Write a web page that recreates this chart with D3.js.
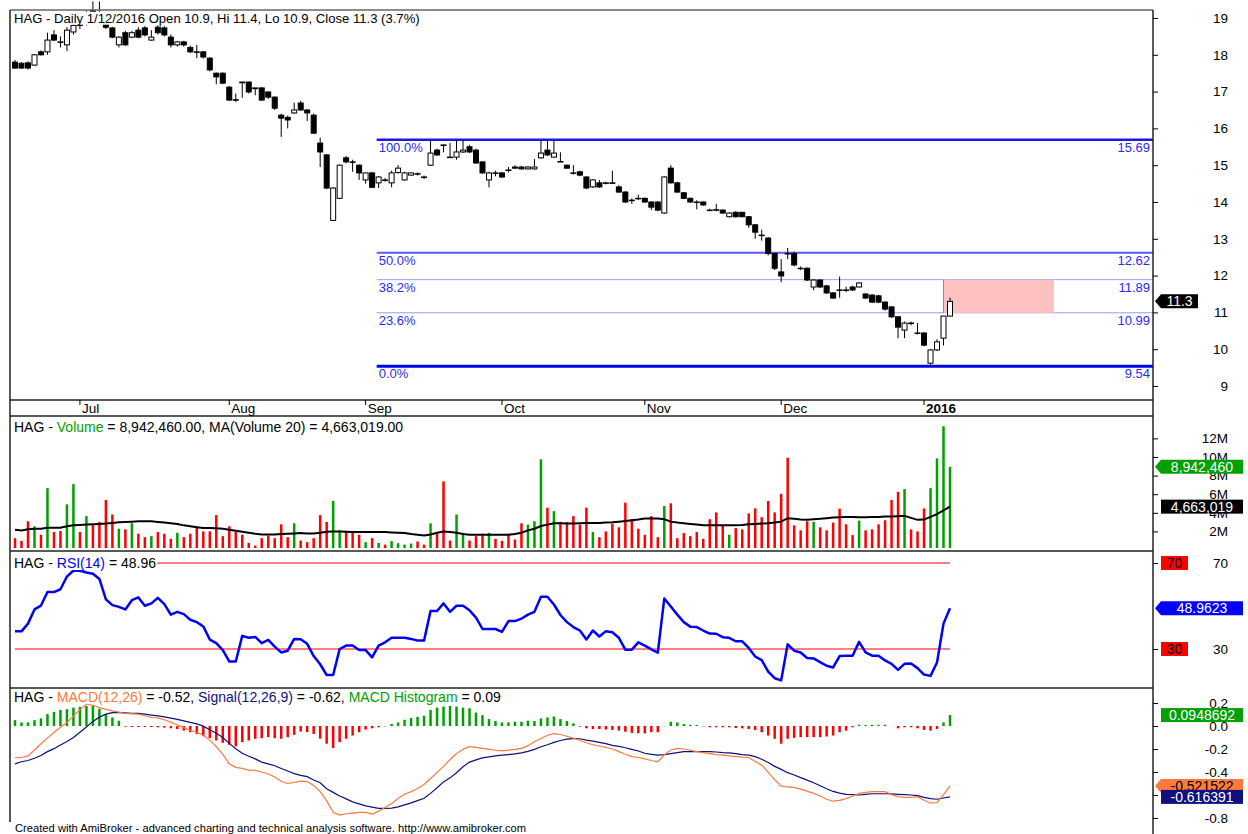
<!DOCTYPE html>
<meta charset="utf-8">
<head>
    <style>
        body { margin: 0; background: #fff; }
        text { font-family: "Liberation Sans", Arial, sans-serif; white-space: pre; }
    </style>
    <title>HAG Daily</title>
</head>
<body>
<svg width="1248" height="834"></svg>
<script src="https://d3js.org/d3.v7.min.js"></script>
<script>

    // ---- data (bar index 0..144) ----
    var openP = [17.80,17.77,17.78,17.72,18.08,18.08,18.54,18.35,18.27,18.62,
        18.90,18.85,19.20,19.15,18.90,18.73,18.27,18.60,18.48,18.67,
        18.73,18.40,18.75,18.73,18.48,18.27,18.35,18.20,18.08,18.08,
        17.91,17.50,17.50,17.12,16.78,17.26,17.26,17.10,17.10,16.99,
        16.85,16.36,16.30,16.42,16.69,16.50,16.36,15.60,15.28,13.50,
        14.10,15.20,15.09,15.00,14.60,14.79,14.52,14.60,14.52,14.80,
        14.60,14.73,14.77,14.68,15.00,15.41,15.55,15.22,15.22,15.36,
        15.50,15.41,15.09,14.60,14.79,14.79,14.87,14.95,14.95,14.90,
        14.90,15.20,15.41,15.22,15.10,15.00,14.79,14.82,14.68,14.41,
        14.52,14.52,14.52,14.41,14.27,14.05,14.10,14.10,14.00,14.00,
        13.70,14.92,14.52,14.25,14.10,14.00,14.00,13.78,13.79,13.78,
        13.60,13.72,13.72,13.60,13.38,13.10,13.02,12.60,12.10,12.60,
        12.60,12.20,12.20,11.69,11.88,11.72,11.53,11.61,11.61,11.69,
        11.69,11.50,11.47,11.45,11.28,11.15,10.88,10.52,10.71,10.44,
        10.44,9.62,9.98,10.30,10.90];
    var highP = [17.86,17.80,17.82,18.02,18.12,18.60,18.67,18.50,18.75,18.90,
        19.00,19.20,19.45,19.45,19.00,18.76,18.50,18.65,18.65,18.75,
        18.78,18.67,18.80,18.78,18.55,18.38,18.38,18.25,18.27,18.10,
        17.93,17.52,17.52,17.15,16.95,17.27,17.27,17.10,17.12,17.00,
        16.87,16.40,16.35,16.70,16.75,16.52,16.40,15.75,15.30,14.40,
        15.02,15.25,15.15,15.02,14.80,14.82,14.70,14.65,14.85,15.00,
        14.82,14.80,14.80,14.72,15.68,15.45,15.56,15.60,15.69,15.68,
        15.55,15.45,15.10,14.82,14.85,14.82,14.95,15.00,14.98,14.98,
        15.17,15.68,15.68,15.68,15.35,15.02,15.00,14.85,14.70,14.62,
        14.60,14.55,14.85,14.45,14.30,14.10,14.20,14.12,14.02,14.02,
        14.70,15.00,14.55,14.27,14.12,14.05,14.02,13.82,13.95,13.80,
        13.72,13.75,13.73,13.62,13.40,13.25,13.05,12.62,12.45,12.75,
        12.65,12.25,12.22,11.90,11.90,11.75,11.55,11.97,11.70,11.72,
        11.82,11.52,11.50,11.48,11.30,11.17,10.90,10.75,10.75,10.71,
        10.47,10.00,10.27,10.90,11.40];
    var lowP = [17.62,17.62,17.60,17.70,17.98,18.00,18.38,18.20,18.10,18.55,
        18.70,18.80,19.00,18.95,18.70,18.45,18.20,18.25,18.45,18.45,
        18.50,18.38,18.55,18.50,18.20,18.22,18.22,18.05,17.91,17.90,
        17.55,17.20,17.20,16.75,16.72,16.83,16.95,16.90,16.75,16.80,
        16.50,15.77,16.00,16.40,16.48,16.20,15.85,14.95,14.35,13.48,
        14.08,15.05,14.82,14.60,14.50,14.38,14.38,14.55,14.40,14.77,
        14.58,14.72,14.72,14.62,14.98,15.25,15.35,15.20,15.15,15.33,
        15.33,15.04,14.77,14.40,14.70,14.65,14.80,14.90,14.88,14.88,
        14.88,15.18,15.25,15.20,15.08,14.90,14.75,14.70,14.35,14.38,
        14.38,14.48,14.50,14.25,13.98,13.95,14.05,13.98,13.78,13.75,
        13.68,14.50,14.25,14.08,13.98,13.80,13.90,13.75,13.75,13.68,
        13.58,13.58,13.58,13.30,13.00,12.95,12.55,12.15,11.82,12.45,
        12.25,12.15,11.85,11.60,11.66,11.50,11.37,11.40,11.55,11.58,
        11.68,11.37,11.26,11.25,11.05,10.85,10.30,10.30,10.65,10.40,
        10.08,9.54,9.95,10.10,10.90];
    var closeP = [17.64,17.64,17.64,18.00,18.00,18.40,18.40,18.35,18.67,18.80,
        18.80,19.10,19.10,19.00,18.75,18.48,18.48,18.27,18.60,18.48,
        18.54,18.48,18.60,18.54,18.27,18.35,18.27,18.08,18.08,17.94,
        17.59,17.40,17.23,16.77,16.77,17.24,16.99,17.08,16.77,16.85,
        16.55,16.28,16.23,16.50,16.50,16.42,15.87,15.36,14.38,14.38,
        15.00,15.09,15.08,14.79,14.79,14.40,14.68,14.60,14.79,14.92,
        14.79,14.79,14.76,14.68,15.33,15.28,15.54,15.22,15.36,15.41,
        15.36,15.06,14.79,14.79,14.79,14.68,14.87,14.92,14.90,14.95,
        14.95,15.33,15.28,15.33,15.09,14.92,14.79,14.73,14.38,14.60,
        14.41,14.52,14.52,14.27,14.00,14.05,14.10,14.00,13.86,13.78,
        14.68,14.52,14.27,14.10,14.00,14.00,13.92,13.78,13.78,13.70,
        13.70,13.60,13.60,13.38,13.18,13.10,12.60,12.20,11.99,12.60,
        12.29,12.20,11.88,11.88,11.69,11.53,11.39,11.61,11.60,11.61,
        11.80,11.39,11.28,11.28,11.09,10.88,10.60,10.71,10.71,10.44,
        10.11,9.98,10.20,10.90,11.30];

    // volume in millions of shares
    var volume = [1.27,0.98,3.09,2.55,1.64,6.65,1.93,2.04,4.91,7.09,
        1.93,3.64,2.73,3.02,5.38,3.82,2.29,2.22,2.87,1.75,
        1.38,1.49,1.93,1.75,1.20,1.85,1.38,1.75,2.55,2.00,
        2.00,3.75,1.49,2.55,1.93,1.64,0.76,0.47,1.27,1.56,
        1.27,2.76,1.38,2.87,1.02,0.84,1.27,3.75,3.02,5.27,
        2.11,2.00,2.00,1.64,0.84,1.27,0.76,0.58,0.95,0.73,
        0.58,0.69,0.91,0.58,2.87,1.82,7.38,1.02,3.82,1.64,
        1.02,1.49,1.75,1.85,1.20,0.98,1.75,1.13,2.87,2.73,
        3.09,9.75,4.55,4.18,3.02,3.02,3.64,2.73,4.55,1.93,
        1.38,2.00,2.84,2.44,5.09,3.31,2.29,1.64,3.64,1.38,
        4.73,5.02,1.27,1.82,1.49,1.93,1.20,3.31,4.04,2.65,
        1.64,2.36,2.22,3.93,4.47,3.53,5.27,4.04,6.04,9.93,
        2.65,2.11,3.09,3.02,2.44,2.11,2.95,4.44,2.76,1.60,
        3.16,2.11,2.22,2.76,3.20,5.38,6.25,6.55,2.22,2.00,
        4.47,6.65,9.85,13.30,8.94246];
    var volumeMA = [2.18,2.11,2.22,2.29,2.29,2.40,2.40,2.40,2.55,2.65,
        2.69,2.73,2.76,2.80,2.84,2.91,2.98,3.02,3.05,3.09,
        3.09,3.09,3.02,2.95,2.87,2.80,2.65,2.55,2.44,2.36,
        2.36,2.33,2.29,2.18,2.07,1.96,1.85,1.75,1.67,1.67,
        1.67,1.71,1.75,1.78,1.82,1.78,1.78,1.85,1.96,2.00,
        2.00,1.96,1.93,1.93,1.93,1.93,1.93,1.93,1.89,1.85,
        1.82,1.71,1.64,1.56,1.67,1.85,2.00,1.93,1.85,1.71,
        1.64,1.64,1.64,1.64,1.64,1.64,1.64,1.71,1.85,2.11,
        2.29,2.58,2.73,2.87,2.87,2.84,2.84,2.87,2.91,2.91,
        2.91,2.95,2.98,3.05,3.13,3.20,3.27,3.38,3.38,3.38,
        3.31,3.05,2.95,2.87,2.80,2.73,2.65,2.65,2.65,2.65,
        2.65,2.65,2.69,2.76,2.80,2.84,2.87,2.95,3.05,3.42,
        3.35,3.27,3.24,3.31,3.35,3.42,3.49,3.53,3.56,3.56,
        3.53,3.53,3.56,3.56,3.60,3.60,3.64,3.67,3.45,3.24,
        3.27,3.56,3.85,4.25,4.663019];

    var rsi = [38.2,38.2,41.8,48.4,50.2,56.5,56.5,57.8,63.7,66.5,
        66.4,65.6,65.0,62.6,53.1,50.4,49.6,48.4,52.7,54.0,
        50.1,51.2,53.8,50.9,46.0,47.3,46.2,43.6,42.5,40.5,
        34.4,32.7,29.5,24.2,24.2,36.1,35.2,35.6,32.7,34.2,
        31.1,28.4,29.2,34.7,34.5,32.4,26.7,22.9,17.9,17.9,
        30.0,31.6,31.6,29.5,29.5,26.1,31.6,33.1,35.2,35.2,
        35.2,34.7,33.9,33.9,47.7,47.7,51.2,47.3,50.1,50.1,
        48.0,44.6,39.3,39.3,39.3,38.0,43.0,43.0,44.1,46.0,
        47.3,54.3,54.3,50.7,45.8,42.5,40.2,38.6,34.4,38.6,
        35.8,38.3,37.8,35.2,29.7,29.7,33.1,31.6,29.8,28.3,
        53.5,49.8,46.0,42.5,40.4,40.2,38.6,37.2,37.1,35.5,
        35.2,33.6,33.6,30.5,26.5,24.8,19.5,16.4,15.4,32.2,
        29.2,28.4,25.8,25.6,23.9,22.2,21.4,26.7,26.9,26.9,
        33.3,28.4,26.9,26.9,24.7,23.1,20.3,23.1,23.3,21.1,
        18.1,17.5,23.7,41.8,48.9623];

    var macd = [-0.274,-0.274,-0.260,-0.209,-0.154,-0.103,-0.057,-0.011,0.031,0.086,
        0.140,0.191,0.180,0.160,0.145,0.131,0.120,0.109,0.106,0.103,
        0.089,0.074,0.071,0.054,0.034,0.011,-0.014,-0.037,-0.054,-0.080,
        -0.123,-0.180,-0.246,-0.329,-0.360,-0.369,-0.383,-0.386,-0.400,-0.417,
        -0.443,-0.480,-0.500,-0.491,-0.480,-0.483,-0.517,-0.571,-0.651,-0.751,
        -0.774,-0.763,-0.757,-0.751,-0.751,-0.766,-0.740,-0.709,-0.674,-0.631,
        -0.594,-0.571,-0.543,-0.509,-0.457,-0.403,-0.351,-0.291,-0.240,-0.203,
        -0.180,-0.186,-0.194,-0.203,-0.211,-0.217,-0.209,-0.203,-0.194,-0.171,
        -0.137,-0.109,-0.080,-0.066,-0.074,-0.089,-0.106,-0.126,-0.146,-0.163,
        -0.174,-0.186,-0.200,-0.223,-0.246,-0.266,-0.274,-0.286,-0.300,-0.311,
        -0.251,-0.209,-0.194,-0.200,-0.211,-0.223,-0.231,-0.240,-0.249,-0.254,
        -0.260,-0.266,-0.271,-0.274,-0.309,-0.340,-0.403,-0.466,-0.523,-0.529,
        -0.534,-0.549,-0.566,-0.586,-0.609,-0.637,-0.654,-0.646,-0.631,-0.611,
        -0.586,-0.577,-0.571,-0.571,-0.571,-0.597,-0.614,-0.620,-0.620,-0.614,
        -0.646,-0.669,-0.666,-0.597,-0.521522];
    var signal = [-0.329,-0.311,-0.300,-0.280,-0.257,-0.223,-0.197,-0.166,-0.134,-0.100,
        -0.054,-0.009,0.040,0.077,0.103,0.117,0.117,0.114,0.111,0.109,
        0.103,0.095,0.088,0.080,0.069,0.057,0.045,0.031,0.019,-0.001,
        -0.033,-0.063,-0.100,-0.151,-0.197,-0.237,-0.263,-0.286,-0.314,-0.329,
        -0.346,-0.369,-0.391,-0.414,-0.429,-0.440,-0.469,-0.494,-0.546,-0.577,
        -0.609,-0.634,-0.660,-0.677,-0.694,-0.706,-0.717,-0.717,-0.714,-0.703,
        -0.686,-0.669,-0.649,-0.629,-0.586,-0.537,-0.486,-0.451,-0.406,-0.354,
        -0.314,-0.294,-0.277,-0.269,-0.260,-0.254,-0.249,-0.243,-0.234,-0.220,
        -0.203,-0.180,-0.163,-0.143,-0.126,-0.114,-0.109,-0.111,-0.123,-0.131,
        -0.143,-0.154,-0.169,-0.177,-0.189,-0.203,-0.217,-0.237,-0.246,-0.254,
        -0.249,-0.240,-0.231,-0.223,-0.223,-0.223,-0.223,-0.223,-0.226,-0.231,
        -0.234,-0.240,-0.249,-0.254,-0.266,-0.289,-0.317,-0.351,-0.377,-0.406,
        -0.426,-0.449,-0.471,-0.494,-0.520,-0.546,-0.569,-0.583,-0.594,-0.597,
        -0.600,-0.594,-0.589,-0.589,-0.589,-0.591,-0.594,-0.597,-0.600,-0.606,
        -0.620,-0.631,-0.637,-0.626,-0.616391];
    var histogram = [0.051,0.031,0.031,0.051,0.066,0.103,0.123,0.140,0.146,0.160,
        0.166,0.174,0.174,0.151,0.103,0.074,0.046,-0.006,-0.009,-0.009,
        -0.009,-0.009,-0.011,-0.014,-0.020,-0.026,-0.040,-0.054,-0.069,-0.089,
        -0.106,-0.126,-0.146,-0.163,-0.177,-0.140,-0.126,-0.111,-0.106,-0.097,
        -0.106,-0.111,-0.097,-0.077,-0.049,-0.054,-0.069,-0.111,-0.154,-0.191,
        -0.140,-0.111,-0.083,-0.054,-0.031,-0.020,-0.011,-0.003,0.017,0.031,
        0.054,0.069,0.080,0.089,0.140,0.160,0.169,0.174,0.169,0.160,
        0.154,0.117,0.094,0.060,0.043,0.031,0.031,0.037,0.037,0.046,
        0.043,0.066,0.074,0.083,0.060,0.043,0.023,-0.006,-0.020,-0.026,
        -0.026,-0.031,-0.034,-0.040,-0.050,-0.060,-0.063,-0.063,-0.054,-0.054,
        -0.002,0.037,0.031,0.017,0.011,0.009,-0.003,-0.011,-0.011,-0.011,
        -0.011,-0.017,-0.020,-0.026,-0.034,-0.054,-0.083,-0.111,-0.154,-0.111,
        -0.103,-0.097,-0.097,-0.097,-0.097,-0.091,-0.083,-0.054,-0.040,-0.011,
        0.011,0.009,0.011,0.011,0.011,-0.001,-0.020,-0.011,-0.011,-0.020,
        -0.034,-0.040,-0.026,0.031,0.0948692];

    var monthLabels = ["Jul", "Aug", "Sep", "Oct", "Nov", "Dec", "2016"];
    var monthStart = [10, 33, 54, 75, 97, 118, 140];

    var fibPct = ["100.0%", "50.0%", "38.2%", "23.6%", "0.0%"];
    var fibLevel = [15.69, 12.62, 11.89, 10.99, 9.54];
    var fibFrom = 55.7;          // bar where the retracement lines start
    var zoneFrom = 143, zoneTo = 160;   // shaded target box

    var priceTicks = [9, 10, 11, 12, 13, 14, 15, 16, 17, 18, 19];
    var volTicks = [2, 4, 6, 8, 10, 12];
    var rsiTicks = [30, 70];
    var macdTicks = [-0.8, -0.6, -0.4, -0.2, 0, 0.2];

    // ---- layout ----
    var svg = d3.select("svg"),
        width = +svg.attr("width"),
        height = +svg.attr("height"),
        left = 10,
        axisX = 1153;

    var green = "#00a000", red = "#ff0000", blue = "#0000ff",
        orange = "#ff7a3c", navy = "#10107e", fibBlue = "#2a2aff";

    var n = closeP.length;
    var x = d3.scaleLinear().domain([0, n - 1]).range([15, 950]);
    var yPrice = d3.scaleLinear().domain([9, 19]).range([386, 18]);
    var yVol = d3.scaleLinear().domain([0, 12]).range([550, 438.4]);
    var yRsi = d3.scaleLinear().domain([30, 70]).range([649, 563]);
    var yMacd = d3.scaleLinear().domain([-0.8, 0.2]).range([818, 703]);

    svg.append("rect").attr("width", width).attr("height", height).attr("fill", "#fff");

    // ---- price panel: fibonacci lines, zone, candles ----
    var fibW = [2.5, 2, 1, 1, 3], fibC = ["#1818e8", "#5a5aff", "#9c9cff", "#9c9cff", "#0000f0"];
    var fib = svg.append("g");
    fib.selectAll("line").data(fibLevel).enter().append("line")
        .attr("x1", x(fibFrom)).attr("x2", axisX)
        .attr("y1", function (d) { return yPrice(d); })
        .attr("y2", function (d) { return yPrice(d); })
        .attr("stroke", function (d, i) { return fibC[i]; })
        .attr("stroke-width", function (d, i) { return fibW[i]; });

    svg.append("rect")
        .attr("x", x(zoneFrom)).attr("y", yPrice(fibLevel[2]))
        .attr("width", x(zoneTo) - x(zoneFrom))
        .attr("height", yPrice(fibLevel[3]) - yPrice(fibLevel[2]))
        .attr("fill", "#ffc0c0");
    svg.append("line")
        .attr("x1", x(zoneFrom)).attr("x2", x(zoneFrom))
        .attr("y1", yPrice(fibLevel[2])).attr("y2", yPrice(fibLevel[3]))
        .attr("stroke", "#f06060");

    fib.selectAll("text.pct").data(fibPct).enter().append("text")
        .attr("class", "pct")
        .attr("x", x(fibFrom) + 2)
        .attr("y", function (d, i) { return yPrice(fibLevel[i]) + 12; })
        .attr("fill", fibBlue).style("font-size", "13px")
        .text(function (d) { return d; });
    fib.selectAll("text.val").data(fibLevel).enter().append("text")
        .attr("class", "val")
        .attr("x", axisX - 3)
        .attr("y", function (d) { return yPrice(d) + 12; })
        .attr("text-anchor", "end")
        .attr("fill", fibBlue).style("font-size", "13px")
        .text(function (d) { return d.toFixed(2); });

    var idx = d3.range(n);
    var candle = svg.append("g").selectAll("g").data(idx).enter().append("g");
    candle.append("line")
        .attr("x1", function (i) { return x(i); })
        .attr("x2", function (i) { return x(i); })
        .attr("y1", function (i) { return yPrice(highP[i]); })
        .attr("y2", function (i) { return yPrice(lowP[i]); })
        .attr("stroke", "#000");
    candle.append("rect")
        .attr("x", function (i) { return x(i) - 2.5; })
        .attr("width", 5)
        .attr("y", function (i) { return yPrice(Math.max(openP[i], closeP[i])); })
        .attr("height", function (i) {
            return Math.max(0.5, yPrice(Math.min(openP[i], closeP[i])) - yPrice(Math.max(openP[i], closeP[i])));
        })
        .attr("fill", function (i) { return closeP[i] > openP[i] ? "#fff" : "#000"; })
        .attr("stroke", "#000").attr("stroke-width", 1);

    // ---- volume panel ----
    svg.append("g").selectAll("line").data(idx).enter().append("line")
        .attr("x1", function (i) { return x(i); })
        .attr("x2", function (i) { return x(i); })
        .attr("y1", yVol(0) - 2)
        .attr("y2", function (i) { return yVol(volume[i]); })
        .attr("stroke", function (i) { return closeP[i] > openP[i] ? green : red; })
        .attr("stroke-width", 2.5);

    svg.append("path")
        .datum(idx)
        .attr("fill", "none").attr("stroke", "#000").attr("stroke-width", 2)
        .attr("d", d3.line().x(function (i) { return x(i); }).y(function (i) { return yVol(volumeMA[i]); }));

    // ---- RSI panel ----
    [70, 30].forEach(function (v) {
        svg.append("line").attr("x1", x(0)).attr("x2", x(n - 1))
            .attr("y1", yRsi(v)).attr("y2", yRsi(v))
            .attr("stroke", red).attr("stroke-width", 1);
    });
    svg.append("path")
        .datum(idx)
        .attr("fill", "none").attr("stroke", blue).attr("stroke-width", 2.5)
        .attr("stroke-linejoin", "round")
        .attr("d", d3.line().x(function (i) { return x(i); }).y(function (i) { return yRsi(rsi[i]); }));

    // ---- MACD panel ----
    svg.append("g").selectAll("line").data(idx).enter().append("line")
        .attr("x1", function (i) { return x(i); })
        .attr("x2", function (i) { return x(i); })
        .attr("y1", yMacd(0))
        .attr("y2", function (i) { return yMacd(histogram[i]); })
        .attr("stroke", function (i) { return histogram[i] >= 0 ? green : red; })
        .attr("stroke-width", 2.5);

    svg.append("path")
        .datum(idx)
        .attr("fill", "none").attr("stroke", navy).attr("stroke-width", 1.2)
        .attr("d", d3.line().x(function (i) { return x(i); }).y(function (i) { return yMacd(signal[i]); }));
    svg.append("path")
        .datum(idx)
        .attr("fill", "none").attr("stroke", orange).attr("stroke-width", 1.2)
        .attr("d", d3.line().x(function (i) { return x(i); }).y(function (i) { return yMacd(macd[i]); }));

    // ---- frame and separators ----
    var frame = svg.append("g").attr("stroke", "#222").attr("stroke-width", 1.5);
    frame.append("line").attr("x1", left).attr("x2", axisX).attr("y1", 10).attr("y2", 10).attr("stroke", "#666");
    frame.append("line").attr("x1", left).attr("x2", left).attr("y1", 10).attr("y2", 822);
    frame.append("line").attr("x1", axisX).attr("x2", axisX).attr("y1", 10).attr("y2", height);
    [400, 416, 551, 688].forEach(function (y) {
        frame.append("line").attr("x1", left).attr("x2", axisX).attr("y1", y).attr("y2", y);
    });

    // month labels in the date strip
    var months = svg.append("g");
    months.selectAll("line").data(monthStart).enter().append("line")
        .attr("x1", function (d) { return x(d); }).attr("x2", function (d) { return x(d); })
        .attr("y1", 400).attr("y2", 405).attr("stroke", "#000");
    months.selectAll("text").data(monthLabels).enter().append("text")
        .attr("x", function (d, i) { return x(monthStart[i]) + 2; })
        .attr("y", 413)
        .style("font-size", "13.5px")
        .style("font-weight", function (d) { return d === "2016" ? "bold" : "normal"; })
        .text(function (d) { return d; });

    // ---- right-hand axes ----
    function rightAxis(scale, ticks, fmt) {
        var g = svg.append("g")
            .attr("transform", "translate(" + axisX + ",0)")
            .call(d3.axisRight(scale).tickValues(ticks).tickSize(5).tickFormat(fmt));
        g.select(".domain").remove();
        g.selectAll("line").attr("stroke", "#000");
        g.selectAll("text")
            .attr("x", 75).attr("text-anchor", "end")
            .attr("fill", "#000")
            .style("font-size", "13.5px")
            .style("font-family", "'Liberation Sans', Arial, sans-serif");
        return g;
    }
    rightAxis(yPrice, priceTicks, function (d) { return d; });
    rightAxis(yVol, volTicks, function (d) { return d + "M"; });
    rightAxis(yRsi, rsiTicks, function (d) { return d; });
    rightAxis(yMacd, macdTicks, function (d) { return d.toFixed(1); });

    // value tags on the axis
    function tag(y, label, bg, fg, arrow, w) {
        var x0 = axisX + 8;
        var g = svg.append("g");
        if (arrow) {
            g.append("path")
                .attr("d", "M" + (axisX + 2) + "," + y + "L" + x0 + "," + (y - 7) + "H" + (x0 + w) +
                    "V" + (y + 7) + "H" + x0 + "Z")
                .attr("fill", bg);
        } else {
            g.append("rect").attr("x", x0).attr("y", y - 7).attr("width", w).attr("height", 14).attr("fill", bg);
        }
        g.append("text")
            .attr("x", x0 + w / 2).attr("y", y).attr("dy", "0.36em")
            .attr("text-anchor", "middle")
            .attr("fill", fg).style("font-size", "14px")
            .text(label);
    }
    var last = n - 1;
    tag(yPrice(closeP[last]), String(closeP[last]), "#000", "#fff", true, 37);
    tag(yVol(volume[last]), d3.format(",")(Math.round(volume[last] * 1e6)), green, "#fff", true, 82);
    tag(yVol(volumeMA[last]), d3.format(",")(Math.round(volumeMA[last] * 1e6)), "#000", "#fff", false, 82);
    tag(yRsi(70), "70", red, "#000", false, 27);
    tag(yRsi(30), "30", red, "#000", false, 27);
    tag(yRsi(rsi[last]), String(rsi[last]), blue, "#fff", true, 82);
    tag(yMacd(histogram[last]), String(histogram[last]), green, "#fff", false, 82);
    tag(yMacd(macd[last]), String(macd[last]), orange, "#000", true, 82);
    tag(yMacd(signal[last]), String(signal[last]), navy, "#fff", false, 82);

    // ---- panel titles (drawn on a white backing) ----
    function title(y, size, parts) {
        var t = svg.append("text").attr("x", 14).attr("y", y).attr("dy", "0.36em")
            .style("font-size", size + "px");
        parts.forEach(function (p) {
            t.append("tspan").attr("fill", p[1]).text(p[0]);
        });
        var b = t.node().getBBox();
        svg.insert("rect", function () { return t.node(); })
            .attr("x", b.x - 1).attr("y", b.y + 1).attr("width", b.width + 2).attr("height", b.height - 2)
            .attr("fill", "#fff");
    }
    var f2 = function (v) { return v.toFixed(2); };
    title(18, 13.1, [["HAG - Daily 1/12/2016 Open " + openP[last] + ", Hi " + highP[last] + ", Lo " + lowP[last] +
        ", Close " + closeP[last] + " (" + ((closeP[last] / closeP[last - 1] - 1) * 100).toFixed(1) + "%)", "#000"]]);
    title(427, 14, [["HAG - ", "#000"], ["Volume", green],
        [" = " + d3.format(",.2f")(Math.round(volume[last] * 1e6)) + ", MA(Volume 20) = " +
            d3.format(",.2f")(Math.round(volumeMA[last] * 1e6)), "#000"]]);
    title(563, 14, [["HAG - ", "#000"], ["RSI(14)", blue], [" = " + f2(rsi[last]), "#000"]]);
    title(697, 14, [["HAG - ", "#000"], ["MACD(12,26)", orange], [" = " + f2(macd[last]) + ", ", "#000"],
        ["Signal(12,26,9)", navy], [" = " + f2(signal[last]) + ", ", "#000"],
        ["MACD Histogram", green], [" = " + f2(histogram[last]), "#000"]]);

    svg.append("text").attr("x", 15).attr("y", 832)
        .style("font-size", "11.2px").attr("fill", "#000")
        .text("Created with AmiBroker - advanced charting and technical analysis software. http://www.amibroker.com");

</script>
</body>
